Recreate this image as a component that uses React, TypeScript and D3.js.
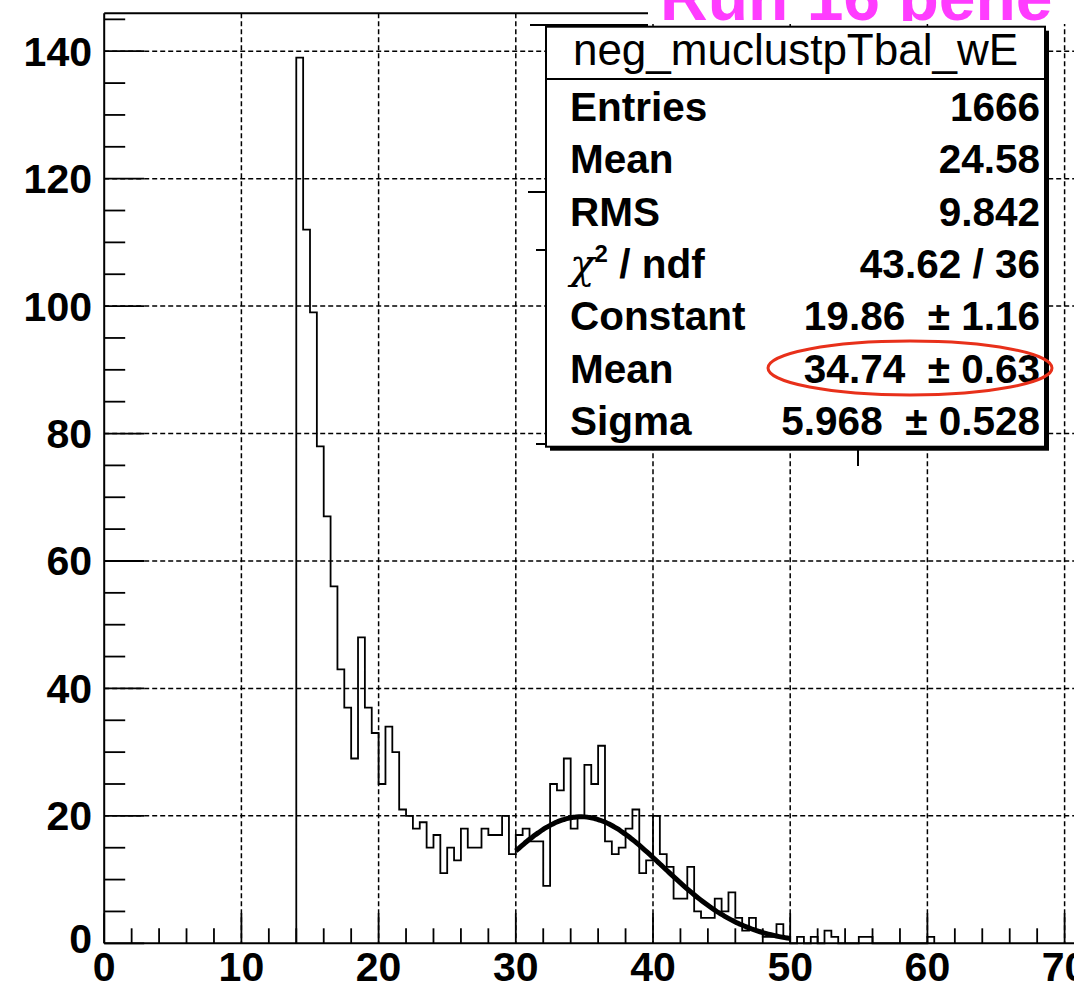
import React from "react";
import * as d3 from "d3";

// ---- data ----
const binStart = 14;
const binWidth = 0.5;
const counts: number[] = [
  139, 112, 99, 78, 67, 56, 43, 37, 29, 48, 37, 33, // 14.0 - 19.5
  25, 34, 30, 21, 20, 18, 19, 15, 17, 11, // 20.0 - 24.5
  15, 13, 18, 15, 15, 18, 17, 17, 20, 14, // 25.0 - 29.5
  17, 18, 16, 16, 9, 25, 24, 29, 18, 20, // 30.0 - 34.5
  28, 25, 31, 16, 14, 15, 18, 21, 11, 13, // 35.0 - 39.5
  20, 14, 12, 7, 7, 12, 5, 4, 4, 7, // 40.0 - 44.5
  5, 8, 4, 2, 4, 2, 1, 1, 3, 1, // 45.0 - 49.5
  0, 1, 0, 1, 0, 2, 1, 0, 0, 0, // 50.0 - 54.5
  1, 1, 0, 0, 0, 0, 0, 0, 0, 0, // 55.0 - 59.5
  1, // 60.0
];
const fitConstant = 19.86;
const fitMean = 34.74;
const fitSigma = 5.968;
const fitRange = [30, 50];

const xMajorTicks = [0, 10, 20, 30, 40, 50, 60, 70];
const yMajorTicks = [0, 20, 40, 60, 80, 100, 120, 140];

const statsTitle = "neg_muclustpTbal_wE";
const statsLabels = ["Entries", "Mean", "RMS", "chi2", "Constant", "Mean", "Sigma"];
const statsValues = ["1666", "24.58", "9.842", "43.62 / 36", "19.86  \u00b1 1.16", "34.74  \u00b1 0.63", "5.968  \u00b1 0.528"];
const annotation = "Run 16 pene";

const W = 1074;
const H = 987;
const FONT = "'Liberation Sans', Arial, Helvetica, sans-serif";

export default function App() {
  const x = d3.scaleLinear().domain([0, 70]).range([104.2, 1064.6]);
  const y = d3.scaleLinear().domain([0, 145.95]).range([943.3, 13.3]);
  const x0 = x(0);
  const y0 = y(0);
  const yTop = y(145.95);

  // histogram path
  let path = `M${x(binStart)},${y0}`;
  counts.forEach((c, i) => {
    const xl = binStart + i * binWidth;
    path += `V${y(c)}H${x(xl + binWidth)}`;
  });
  path += `V${y0}`;

  // fit function curve
  const fitPts = d3.range(fitRange[0], fitRange[1] + 1e-6, 0.2).map((v) => [
    v,
    fitConstant * Math.exp(-0.5 * ((v - fitMean) / fitSigma) ** 2),
  ]);
  const fitLine = d3
    .line<number[]>()
    .x((d) => x(d[0]))
    .y((d) => y(d[1]))
    .curve(d3.curveMonotoneX)(fitPts);

  const xMinor = d3.range(0, 72, 2).filter((v) => v % 10 !== 0);
  const yMinor = d3.range(0, 146, 5).filter((v) => v % 20 !== 0);

  // stats box geometry
  const bx = 546, by = 26.7, bw = 499, bh = 420;
  const rowY = (i: number) => 121 + i * 52.3;

  return (
    <svg
      width={W}
      height={H}
      style={{ position: "absolute", left: 0, top: 0, background: "#fff" }}
      fontFamily={FONT}
    >
      <defs>
        <clipPath id="titleClip">
          <rect x={640} y={0} width={W} height={21} />
        </clipPath>
      </defs>
      <rect x={0} y={0} width={W} height={H} fill="#fff" />
      {/* grid */}
      <g stroke="#000" strokeWidth={1.5} strokeDasharray="5 3">
        {xMajorTicks.filter((v) => v > 0).map((v) => (
          <line key={"gx" + v} x1={x(v)} x2={x(v)} y1={yTop} y2={y0} />
        ))}
        {yMajorTicks.filter((v) => v > 0).map((v) => (
          <line key={"gy" + v} x1={x0} x2={W + 10} y1={y(v)} y2={y(v)} />
        ))}
      </g>
      {/* histogram */}
      <path d={path} fill="none" stroke="#000" strokeWidth={1.8} />
      {/* fit */}
      <path d={fitLine || ""} fill="none" stroke="#000" strokeWidth={5} strokeLinejoin="round" />
      {/* frame */}
      <g stroke="#000" strokeWidth={2} fill="none">
        <line x1={x0} x2={W + 10} y1={yTop} y2={yTop} />
        <line x1={x0} x2={W + 10} y1={y0} y2={y0} />
        <line x1={x0} x2={x0} y1={yTop} y2={y0} />
      </g>
      {/* ticks */}
      <g stroke="#000" strokeWidth={1.8}>
        {xMajorTicks.map((v) => (
          <line key={"xt" + v} x1={x(v)} x2={x(v)} y1={y0} y2={y0 - 30} />
        ))}
        {xMinor.map((v) => (
          <line key={"xm" + v} x1={x(v)} x2={x(v)} y1={y0} y2={y0 - 15} />
        ))}
        {yMajorTicks.map((v) => (
          <line key={"yt" + v} x1={x0} x2={x0 + 40} y1={y(v)} y2={y(v)} />
        ))}
        {yMinor.map((v) => (
          <line key={"ym" + v} x1={x0} x2={x0 + 21} y1={y(v)} y2={y(v)} />
        ))}
      </g>
      {/* tick labels */}
      <g fontSize={41} fontWeight="bold" fill="#000">
        {xMajorTicks.map((v) => (
          <text key={"xl" + v} x={x(v)} y={981} textAnchor="middle">
            {v}
          </text>
        ))}
        {yMajorTicks.map((v) => (
          <text key={"yl" + v} x={92} y={y(v) + (v === 0 ? 10 : 14.5)} textAnchor="end">
            {v}
          </text>
        ))}
      </g>
      {/* title pave remnants and hidden-box marks */}
      <rect x={648} y={0} width={W - 648} height={24} fill="#fff" />
      <g stroke="#000" strokeWidth={2}>
        <line x1={528} x2={546} y1={192} y2={192} />
        <line x1={536} x2={546} y1={250} y2={250} />
        <line x1={536} x2={546} y1={444} y2={444} />
        <line x1={858} x2={858} y1={447} y2={466} />
        <line x1={530} x2={648} y1={25} y2={25} />
      </g>
      {/* magenta annotation (cut at top) */}
      <g clipPath="url(#titleClip)">
        <text x={660} y={20} fontSize={66} fontWeight="bold" fill="#ff3cff">
          {annotation}
        </text>
      </g>
      {/* stats box */}
      <rect x={bx + 4} y={by + 4} width={bw} height={bh} fill="#000" />
      <rect x={bx} y={by} width={bw} height={bh} fill="#fff" stroke="#000" strokeWidth={2} />
      <line x1={bx} x2={bx + bw} y1={79} y2={79} stroke="#000" strokeWidth={2} />
      <text x={bx + bw / 2} y={65} textAnchor="middle" fontSize={44} fill="#000">
        {statsTitle}
      </text>
      <g fontSize={40.5} fontWeight="bold" fill="#000">
        {statsLabels.map((l, i) => (
          <text key={"sl" + i} x={570} y={rowY(i)}>
            {l === "chi2" ? (
              <>
                <tspan fontFamily="'DejaVu Serif', serif" fontWeight="normal" fontStyle="italic">χ</tspan>
                <tspan dy={-16} fontSize={24}>2</tspan>
                <tspan dy={16}> / ndf</tspan>
              </>
            ) : (
              l
            )}
          </text>
        ))}
        {statsValues.map((v, i) => (
          <text key={"sv" + i} x={1040} y={rowY(i)} textAnchor="end" style={{ whiteSpace: "pre" }}>
            {v}
          </text>
        ))}
      </g>
      {/* red highlight ellipse */}
      <ellipse cx={910} cy={368} rx={142} ry={27} fill="none" stroke="#e8301a" strokeWidth={3} />
    </svg>
  );
}
